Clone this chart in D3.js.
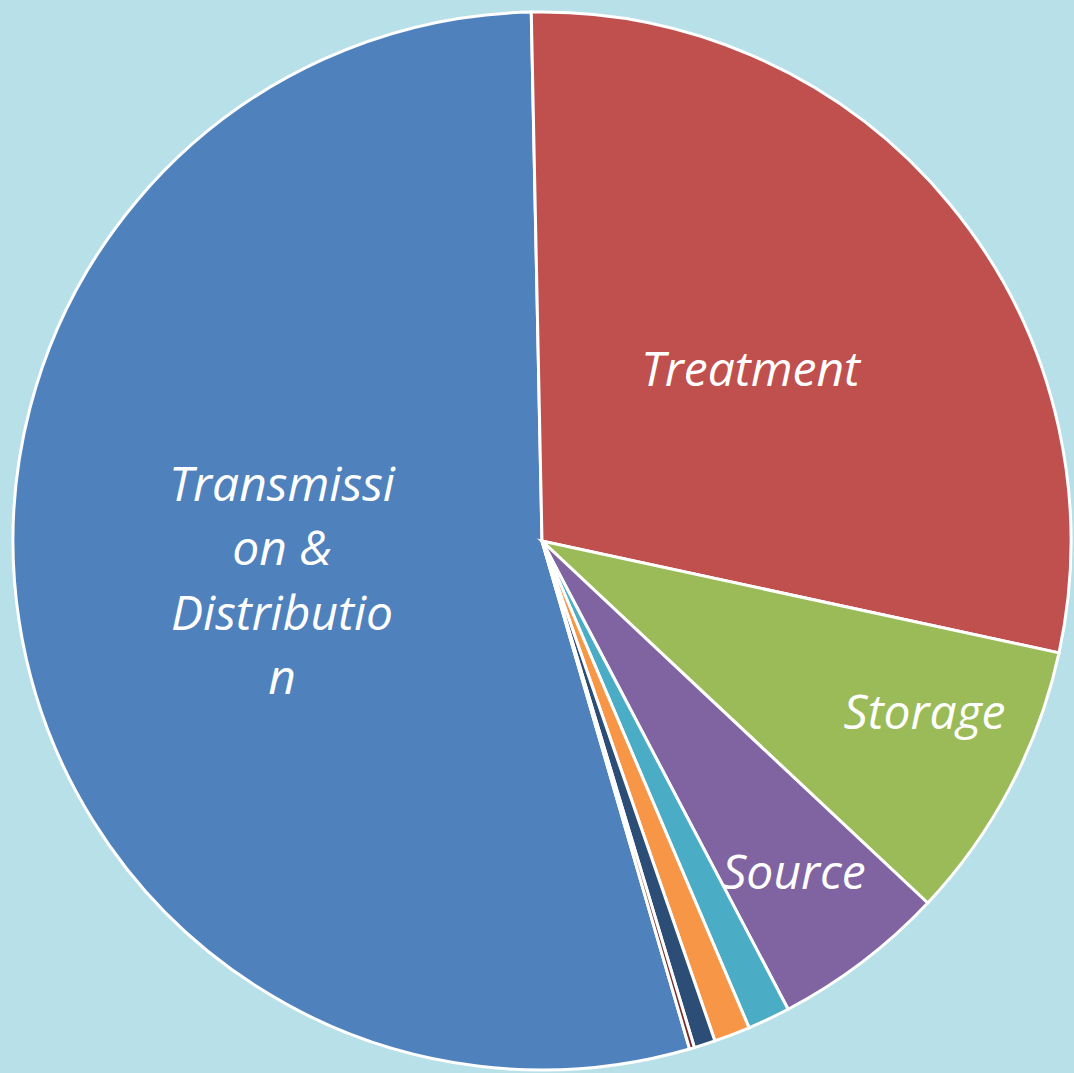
<!DOCTYPE html>
<html>
<head>
<meta charset="utf-8">
<script src="https://cdn.jsdelivr.net/npm/d3@7"></script>
<style>
  html, body { margin: 0; padding: 0; background: #b8e0e8; }
  svg { display: block; }
</style>
</head>
<body>
<div id="chart"></div>
<script>
// Data (percent of total)
var categories = ["Transmission & Distribution", "Treatment", "Storage", "Source",
                  "Other 1", "Other 2", "Other 3", "Other 4"];
var values = [54.15, 28.7, 8.6, 5.3, 1.3, 1.1, 0.65, 0.15];
// label text as it wraps in the picture ("" = no label)
var labelLines = [["Transmissi", "on &", "Distributio", "n"], ["Treatment"], ["Storage"], ["Source"],
                  [], [], [], []];
var colors = ["#4f81bd", "#c0504d", "#9bbb59", "#8064a2", "#4bacc6", "#f79646", "#2c4d75", "#772c2a"];

var svgWidth = 1074;
var svgHeight = 1073;
var cx = 542, cy = 541;
var radius = 529;
var firstAngle = 163.8; // degrees, where the first slice starts

// label placement: radius from centre and angle nudge (degrees) from slice middle
var labelRadius = [263, 270, 419, 416, 0, 0, 0, 0];
var labelNudge = [0, 0, -3.6, 0, 0, 0, 0, 0];
var fontSize = 48;
var lineHeight = 64.5;

var svg = d3.select("#chart")
  .append("svg")
  .attr("width", svgWidth)
  .attr("height", svgHeight);

svg.append("rect")
  .attr("width", svgWidth)
  .attr("height", svgHeight)
  .attr("fill", "#b8e0e8");

var g = svg.append("g")
  .attr("transform", `translate(${cx}, ${cy})`);

var rad = Math.PI / 180;
var pie = d3.pie()
  .sort(null)
  .value(d => d)
  .startAngle(firstAngle * rad)
  .endAngle(firstAngle * rad + 2 * Math.PI);

var arcs = pie(values);

var arc = d3.arc()
  .innerRadius(0)
  .outerRadius(radius);

g.selectAll("path.slice")
  .data(arcs)
  .enter()
  .append("path")
  .attr("class", "slice")
  .attr("d", arc)
  .attr("fill", (d, i) => colors[i])
  .attr("stroke", "#ffffff")
  .attr("stroke-width", 3)
  .attr("stroke-linejoin", "miter");

// labels
var labels = g.selectAll("text.lbl")
  .data(arcs)
  .enter()
  .append("text")
  .attr("class", "lbl")
  .attr("text-anchor", "middle")
  .attr("font-family", "'Open Sans', sans-serif")
  .attr("font-style", "italic")
  .attr("font-size", fontSize + "px")
  .attr("fill", "#ffffff")
  .attr("transform", function(d, i) {
    var a = (d.startAngle + d.endAngle) / 2 + labelNudge[i] * rad;
    var x = Math.sin(a) * labelRadius[i];
    var y = -Math.cos(a) * labelRadius[i];
    return `translate(${x}, ${y})`;
  });

labels.each(function(d, i) {
  var lines = labelLines[i];
  var n = lines.length;
  var t = d3.select(this);
  lines.forEach(function(line, k) {
    t.append("tspan")
      .attr("x", 0)
      .attr("y", (k - (n - 1) / 2) * lineHeight + 17)
      .text(line);
  });
});
</script>
</body>
</html>
